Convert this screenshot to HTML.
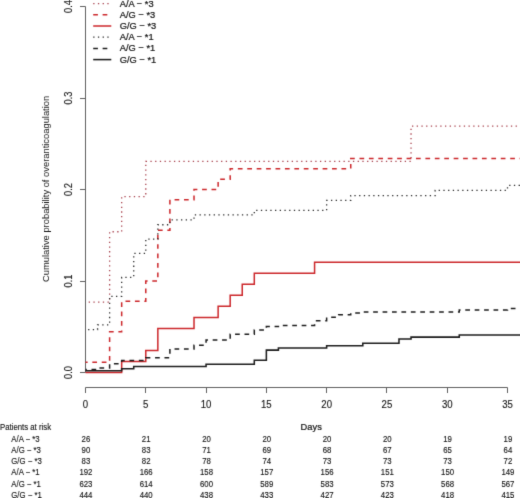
<!DOCTYPE html>
<html><head><meta charset="utf-8"><style>
html,body{margin:0;padding:0;background:#fff;}
body{width:520px;height:498px;overflow:hidden;}
svg{display:block;will-change:transform;}
text{font-family:"Liberation Sans", sans-serif;fill:#141414;stroke:#141414;stroke-width:0.22px;}
</style></head><body>
<svg width="520" height="498" viewBox="0 0 520 498">

<defs><filter id="b" x="0" y="0" width="520" height="498" filterUnits="userSpaceOnUse" color-interpolation-filters="sRGB"><feConvolveMatrix order="3" kernelMatrix="0.0115 0.0842 0.0115 0.0842 0.619 0.0842 0.0115 0.0842 0.0115" edgeMode="duplicate"/></filter></defs>
<rect width="520" height="498" fill="#fff"/><g filter="url(#b)"><rect width="520" height="498" fill="#fff"/>
<path d="M85.5,6.5 V372.5" stroke="#606060" stroke-width="1" fill="none"/>
<path d="M80,372.5 H85.5" stroke="#606060" stroke-width="1"/>
<path d="M80,281.5 H85.5" stroke="#606060" stroke-width="1"/>
<path d="M80,189.5 H85.5" stroke="#606060" stroke-width="1"/>
<path d="M80,98.5 H85.5" stroke="#606060" stroke-width="1"/>
<path d="M80,6.5 H85.5" stroke="#606060" stroke-width="1"/>
<path d="M85.5,387.5 H507.5" stroke="#606060" stroke-width="1" fill="none"/>
<path d="M85.5,387.5 V393" stroke="#606060" stroke-width="1"/>
<path d="M145.5,387.5 V393" stroke="#606060" stroke-width="1"/>
<path d="M206.5,387.5 V393" stroke="#606060" stroke-width="1"/>
<path d="M266.5,387.5 V393" stroke="#606060" stroke-width="1"/>
<path d="M326.5,387.5 V393" stroke="#606060" stroke-width="1"/>
<path d="M386.5,387.5 V393" stroke="#606060" stroke-width="1"/>
<path d="M447.5,387.5 V393" stroke="#606060" stroke-width="1"/>
<path d="M507.5,387.5 V393" stroke="#606060" stroke-width="1"/>
<text font-size="9.35" text-anchor="middle" style="stroke-width:0.12px" transform="translate(72.20,372.50) rotate(-90) scale(1.0,1.10011)">0.0</text>
<text font-size="9.35" text-anchor="middle" style="stroke-width:0.12px" transform="translate(72.20,281.00) rotate(-90) scale(1.0,1.10011)">0.1</text>
<text font-size="9.35" text-anchor="middle" style="stroke-width:0.12px" transform="translate(72.20,189.50) rotate(-90) scale(1.0,1.10011)">0.2</text>
<text font-size="9.35" text-anchor="middle" style="stroke-width:0.12px" transform="translate(72.20,98.00) rotate(-90) scale(1.0,1.10011)">0.3</text>
<text font-size="9.35" text-anchor="middle" style="stroke-width:0.12px" transform="translate(72.20,6.50) rotate(-90) scale(1.0,1.10011)">0.4</text>
<text font-size="9.6" text-anchor="middle" style="stroke-width:0.12px" transform="translate(85.50,407.60) scale(1.0,1.08011)">0</text>
<text font-size="9.6" text-anchor="middle" style="stroke-width:0.12px" transform="translate(145.78,407.60) scale(1.0,1.08011)">5</text>
<text font-size="9.6" text-anchor="middle" style="stroke-width:0.12px" transform="translate(206.07,407.60) scale(1.0,1.08011)">10</text>
<text font-size="9.6" text-anchor="middle" style="stroke-width:0.12px" transform="translate(266.36,407.60) scale(1.0,1.08011)">15</text>
<text font-size="9.6" text-anchor="middle" style="stroke-width:0.12px" transform="translate(326.64,407.60) scale(1.0,1.08011)">20</text>
<text font-size="9.6" text-anchor="middle" style="stroke-width:0.12px" transform="translate(386.93,407.60) scale(1.0,1.08011)">25</text>
<text font-size="9.6" text-anchor="middle" style="stroke-width:0.12px" transform="translate(447.21,407.60) scale(1.0,1.08011)">30</text>
<text font-size="9.6" text-anchor="middle" style="stroke-width:0.12px" transform="translate(507.50,407.60) scale(1.0,1.08011)">35</text>
<text font-size="9.37" text-anchor="middle" style="stroke-width:0px" transform="translate(49.00,188.90) rotate(-90) scale(1.0,1.05011)">Cumulative probability of overanticoagulation</text>
<text font-size="9.3" text-anchor="middle" transform="translate(311.20,429.80) scale(1.0,1.00010)">Days</text>
<path d="M85.50,302.14 L109.61,302.14 L109.61,231.77 L121.67,231.77 L121.67,196.55 L145.78,196.55 L145.78,161.32 L411.04,161.32 L411.04,126.18 L520.50,126.18" stroke="#a8404c" stroke-width="1.3" fill="none" stroke-dasharray="1.3 3.41" stroke-dashoffset="1.52"/>
<path d="M85.50,362.34 L109.61,362.34 L109.61,331.87 L121.67,331.87 L121.67,301.31 L145.78,301.31 L145.78,281.00 L157.84,281.00 L157.84,230.13 L169.90,230.13 L169.90,199.66 L194.01,199.66 L194.01,189.50 L218.13,189.50 L218.13,179.34 L230.18,179.34 L230.18,168.73 L350.75,168.73 L350.75,158.48 L520.50,158.48" stroke="#cc262a" stroke-width="1.5" fill="none" stroke-dasharray="4.71 4.71" stroke-dashoffset="2.59"/>
<path d="M85.50,372.50 L121.67,372.50 L121.67,361.52 L145.78,361.52 L145.78,350.45 L157.84,350.45 L157.84,328.40 L194.01,328.40 L194.01,317.42 L218.13,317.42 L218.13,306.35 L230.18,306.35 L230.18,295.37 L242.24,295.37 L242.24,284.29 L254.30,284.29 L254.30,273.31 L314.58,273.31 L314.58,262.24 L520.50,262.24" stroke="#cc262a" stroke-width="1.5" fill="none"/>
<path d="M85.50,329.59 L97.56,329.59 L97.56,324.92 L109.61,324.92 L109.61,296.28 L121.67,296.28 L121.67,277.34 L133.73,277.34 L133.73,253.37 L145.78,253.37 L145.78,239.09 L157.84,239.09 L157.84,224.73 L169.90,224.73 L169.90,219.97 L194.01,219.97 L194.01,214.94 L254.30,214.94 L254.30,210.36 L326.64,210.36 L326.64,200.39 L350.75,200.39 L350.75,195.54 L435.15,195.54 L435.15,190.32 L507.50,190.32 L507.50,185.47 L520.50,185.47" stroke="#2a2a2a" stroke-width="1.3" fill="none" stroke-dasharray="1.3 3.41" stroke-dashoffset="2.12"/>
<path d="M85.50,369.57 L97.56,369.57 L97.56,368.11 L109.61,368.11 L109.61,363.72 L121.67,363.72 L121.67,360.42 L145.78,360.42 L145.78,357.77 L169.90,357.77 L169.90,348.98 L194.01,348.98 L194.01,345.23 L206.07,345.23 L206.07,340.02 L230.18,340.02 L230.18,334.16 L254.30,334.16 L254.30,330.04 L266.36,330.04 L266.36,326.57 L278.41,326.57 L278.41,325.38 L314.58,325.38 L314.58,320.71 L326.64,320.71 L326.64,317.23 L338.70,317.23 L338.70,314.86 L350.75,314.86 L350.75,313.02 L362.81,313.02 L362.81,312.11 L459.27,312.11 L459.27,310.01 L507.50,310.01 L507.50,308.45 L520.50,308.45" stroke="#1c1c1c" stroke-width="1.5" fill="none" stroke-dasharray="4.71 4.71" stroke-dashoffset="3.42"/>
<path d="M85.50,370.74 L121.67,370.74 L121.67,368.68 L133.73,368.68 L133.73,366.58 L206.07,366.58 L206.07,364.29 L254.30,364.29 L254.30,360.26 L266.36,360.26 L266.36,350.11 L278.41,350.11 L278.41,348.00 L326.64,348.00 L326.64,345.81 L362.81,345.81 L362.81,343.34 L398.98,343.34 L398.98,338.94 L411.04,338.94 L411.04,337.12 L459.27,337.12 L459.27,334.92 L520.50,334.92" stroke="#1c1c1c" stroke-width="1.55" fill="none"/>
<path d="M93.2,3.60 H111.3" stroke="#a8404c" stroke-width="1.3" fill="none" stroke-dasharray="1.3 3.41"/>
<text font-size="9.3" transform="translate(119.80,6.60) scale(1.0,1.06011)">A/A − *3</text>
<path d="M93.2,14.80 H111.3" stroke="#cc262a" stroke-width="1.5" fill="none" stroke-dasharray="4.71 4.71"/>
<text font-size="9.3" transform="translate(119.80,17.80) scale(1.0,1.06011)">A/G − *3</text>
<path d="M93.2,26.00 H111.3" stroke="#cc262a" stroke-width="1.5" fill="none"/>
<text font-size="9.3" transform="translate(119.80,29.00) scale(1.0,1.06011)">G/G − *3</text>
<path d="M93.2,37.20 H111.3" stroke="#2a2a2a" stroke-width="1.3" fill="none" stroke-dasharray="1.3 3.41"/>
<text font-size="9.3" transform="translate(119.80,40.20) scale(1.0,1.06011)">A/A − *1</text>
<path d="M93.2,48.40 H111.3" stroke="#1c1c1c" stroke-width="1.5" fill="none" stroke-dasharray="4.71 4.71"/>
<text font-size="9.3" transform="translate(119.80,51.40) scale(1.0,1.06011)">A/G − *1</text>
<path d="M93.2,59.60 H111.3" stroke="#1c1c1c" stroke-width="1.55" fill="none"/>
<text font-size="9.3" transform="translate(119.80,62.60) scale(1.0,1.06011)">G/G − *1</text>
<text font-size="7.8" style="stroke-width:0.12px" transform="translate(0.00,429.80) scale(1.0,1.12011)">Patients at risk</text>
<text font-size="7.8" style="stroke-width:0.12px" transform="translate(11.30,441.50) scale(1.0,1.12011)">A/A − *3</text>
<text font-size="7.8" text-anchor="middle" style="stroke-width:0.12px" transform="translate(85.90,441.50) scale(1.0,1.12011)">26</text>
<text font-size="7.8" text-anchor="middle" style="stroke-width:0.12px" transform="translate(146.19,441.50) scale(1.0,1.12011)">21</text>
<text font-size="7.8" text-anchor="middle" style="stroke-width:0.12px" transform="translate(206.47,441.50) scale(1.0,1.12011)">20</text>
<text font-size="7.8" text-anchor="middle" style="stroke-width:0.12px" transform="translate(266.75,441.50) scale(1.0,1.12011)">20</text>
<text font-size="7.8" text-anchor="middle" style="stroke-width:0.12px" transform="translate(327.04,441.50) scale(1.0,1.12011)">20</text>
<text font-size="7.8" text-anchor="middle" style="stroke-width:0.12px" transform="translate(387.32,441.50) scale(1.0,1.12011)">20</text>
<text font-size="7.8" text-anchor="middle" style="stroke-width:0.12px" transform="translate(447.61,441.50) scale(1.0,1.12011)">19</text>
<text font-size="7.8" text-anchor="middle" style="stroke-width:0.12px" transform="translate(507.89,441.50) scale(1.0,1.12011)">19</text>
<text font-size="7.8" style="stroke-width:0.12px" transform="translate(11.30,452.78) scale(1.0,1.12011)">A/G − *3</text>
<text font-size="7.8" text-anchor="middle" style="stroke-width:0.12px" transform="translate(85.90,452.78) scale(1.0,1.12011)">90</text>
<text font-size="7.8" text-anchor="middle" style="stroke-width:0.12px" transform="translate(146.19,452.78) scale(1.0,1.12011)">83</text>
<text font-size="7.8" text-anchor="middle" style="stroke-width:0.12px" transform="translate(206.47,452.78) scale(1.0,1.12011)">71</text>
<text font-size="7.8" text-anchor="middle" style="stroke-width:0.12px" transform="translate(266.75,452.78) scale(1.0,1.12011)">69</text>
<text font-size="7.8" text-anchor="middle" style="stroke-width:0.12px" transform="translate(327.04,452.78) scale(1.0,1.12011)">68</text>
<text font-size="7.8" text-anchor="middle" style="stroke-width:0.12px" transform="translate(387.32,452.78) scale(1.0,1.12011)">67</text>
<text font-size="7.8" text-anchor="middle" style="stroke-width:0.12px" transform="translate(447.61,452.78) scale(1.0,1.12011)">65</text>
<text font-size="7.8" text-anchor="middle" style="stroke-width:0.12px" transform="translate(507.89,452.78) scale(1.0,1.12011)">64</text>
<text font-size="7.8" style="stroke-width:0.12px" transform="translate(11.30,464.06) scale(1.0,1.12011)">G/G − *3</text>
<text font-size="7.8" text-anchor="middle" style="stroke-width:0.12px" transform="translate(85.90,464.06) scale(1.0,1.12011)">83</text>
<text font-size="7.8" text-anchor="middle" style="stroke-width:0.12px" transform="translate(146.19,464.06) scale(1.0,1.12011)">82</text>
<text font-size="7.8" text-anchor="middle" style="stroke-width:0.12px" transform="translate(206.47,464.06) scale(1.0,1.12011)">78</text>
<text font-size="7.8" text-anchor="middle" style="stroke-width:0.12px" transform="translate(266.75,464.06) scale(1.0,1.12011)">74</text>
<text font-size="7.8" text-anchor="middle" style="stroke-width:0.12px" transform="translate(327.04,464.06) scale(1.0,1.12011)">73</text>
<text font-size="7.8" text-anchor="middle" style="stroke-width:0.12px" transform="translate(387.32,464.06) scale(1.0,1.12011)">73</text>
<text font-size="7.8" text-anchor="middle" style="stroke-width:0.12px" transform="translate(447.61,464.06) scale(1.0,1.12011)">73</text>
<text font-size="7.8" text-anchor="middle" style="stroke-width:0.12px" transform="translate(507.89,464.06) scale(1.0,1.12011)">72</text>
<text font-size="7.8" style="stroke-width:0.12px" transform="translate(11.30,475.34) scale(1.0,1.12011)">A/A − *1</text>
<text font-size="7.8" text-anchor="middle" style="stroke-width:0.12px" transform="translate(85.90,475.34) scale(1.0,1.12011)">192</text>
<text font-size="7.8" text-anchor="middle" style="stroke-width:0.12px" transform="translate(146.19,475.34) scale(1.0,1.12011)">166</text>
<text font-size="7.8" text-anchor="middle" style="stroke-width:0.12px" transform="translate(206.47,475.34) scale(1.0,1.12011)">158</text>
<text font-size="7.8" text-anchor="middle" style="stroke-width:0.12px" transform="translate(266.75,475.34) scale(1.0,1.12011)">157</text>
<text font-size="7.8" text-anchor="middle" style="stroke-width:0.12px" transform="translate(327.04,475.34) scale(1.0,1.12011)">156</text>
<text font-size="7.8" text-anchor="middle" style="stroke-width:0.12px" transform="translate(387.32,475.34) scale(1.0,1.12011)">151</text>
<text font-size="7.8" text-anchor="middle" style="stroke-width:0.12px" transform="translate(447.61,475.34) scale(1.0,1.12011)">150</text>
<text font-size="7.8" text-anchor="middle" style="stroke-width:0.12px" transform="translate(507.89,475.34) scale(1.0,1.12011)">149</text>
<text font-size="7.8" style="stroke-width:0.12px" transform="translate(11.30,486.62) scale(1.0,1.12011)">A/G − *1</text>
<text font-size="7.8" text-anchor="middle" style="stroke-width:0.12px" transform="translate(85.90,486.62) scale(1.0,1.12011)">623</text>
<text font-size="7.8" text-anchor="middle" style="stroke-width:0.12px" transform="translate(146.19,486.62) scale(1.0,1.12011)">614</text>
<text font-size="7.8" text-anchor="middle" style="stroke-width:0.12px" transform="translate(206.47,486.62) scale(1.0,1.12011)">600</text>
<text font-size="7.8" text-anchor="middle" style="stroke-width:0.12px" transform="translate(266.75,486.62) scale(1.0,1.12011)">589</text>
<text font-size="7.8" text-anchor="middle" style="stroke-width:0.12px" transform="translate(327.04,486.62) scale(1.0,1.12011)">583</text>
<text font-size="7.8" text-anchor="middle" style="stroke-width:0.12px" transform="translate(387.32,486.62) scale(1.0,1.12011)">573</text>
<text font-size="7.8" text-anchor="middle" style="stroke-width:0.12px" transform="translate(447.61,486.62) scale(1.0,1.12011)">568</text>
<text font-size="7.8" text-anchor="middle" style="stroke-width:0.12px" transform="translate(507.89,486.62) scale(1.0,1.12011)">567</text>
<text font-size="7.8" style="stroke-width:0.12px" transform="translate(11.30,497.90) scale(1.0,1.12011)">G/G − *1</text>
<text font-size="7.8" text-anchor="middle" style="stroke-width:0.12px" transform="translate(85.90,497.90) scale(1.0,1.12011)">444</text>
<text font-size="7.8" text-anchor="middle" style="stroke-width:0.12px" transform="translate(146.19,497.90) scale(1.0,1.12011)">440</text>
<text font-size="7.8" text-anchor="middle" style="stroke-width:0.12px" transform="translate(206.47,497.90) scale(1.0,1.12011)">438</text>
<text font-size="7.8" text-anchor="middle" style="stroke-width:0.12px" transform="translate(266.75,497.90) scale(1.0,1.12011)">433</text>
<text font-size="7.8" text-anchor="middle" style="stroke-width:0.12px" transform="translate(327.04,497.90) scale(1.0,1.12011)">427</text>
<text font-size="7.8" text-anchor="middle" style="stroke-width:0.12px" transform="translate(387.32,497.90) scale(1.0,1.12011)">423</text>
<text font-size="7.8" text-anchor="middle" style="stroke-width:0.12px" transform="translate(447.61,497.90) scale(1.0,1.12011)">418</text>
<text font-size="7.8" text-anchor="middle" style="stroke-width:0.12px" transform="translate(507.89,497.90) scale(1.0,1.12011)">415</text>
</g>
</svg></body></html>
